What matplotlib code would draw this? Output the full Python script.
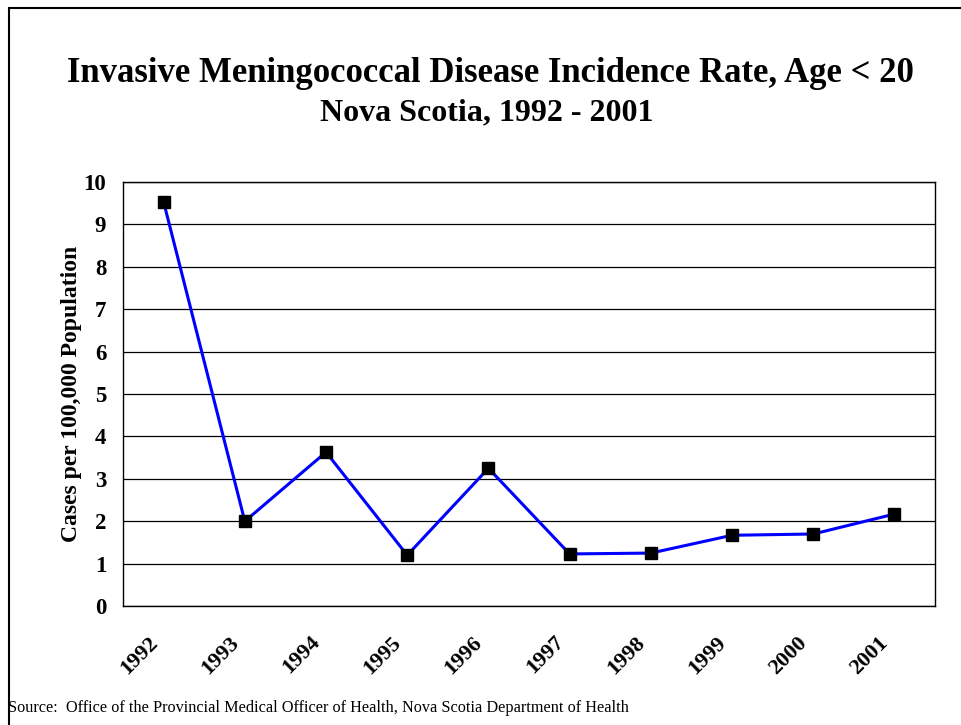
import matplotlib.pyplot as plt
import matplotlib.transforms as mtransforms
from matplotlib.patches import Rectangle

# data
years = ['1992', '1993', '1994', '1995', '1996', '1997', '1998', '1999', '2000', '2001']
rates = [9.53, 2.0, 3.63, 1.2, 3.25, 1.23, 1.25, 1.67, 1.70, 2.17]
yticks = [0, 1, 2, 3, 4, 5, 6, 7, 8, 9, 10]

plt.rcParams['font.family'] = ['Liberation Serif', 'DejaVu Serif']

fig = plt.figure(figsize=(9.61, 7.25), dpi=100)
ax = fig.add_axes([0.128, 0.164, 0.845, 0.585])

x = range(len(years))
ax.plot(x, rates, color='#0000ff', lw=2.2, marker='s', ms=8,
        mfc='black', mec='black', zorder=3)

ax.set_xlim(-0.5, len(years) - 0.5)
ax.set_ylim(0, 10)
ax.set_yticks(yticks)
ax.set_yticklabels([str(t) for t in yticks], fontsize=16.5, fontweight='bold')
ax.set_xticks(list(x))
ax.set_xticklabels(years, rotation=45, ha='right', va='top', fontsize=16,
                   fontweight='bold', rotation_mode='anchor')
ax.tick_params(axis='y', length=0, pad=12)
ax.tick_params(axis='x', length=0, pad=19)
# shift the slanted year labels a bit left, like the original
shift = mtransforms.ScaledTranslation(-0.16, 0, fig.dpi_scale_trans)
for lab in ax.get_xticklabels():
    lab.set_transform(lab.get_transform() + shift)
ax.grid(axis='y', color='black', lw=0.9)
ax.set_axisbelow(True)
for s in ax.spines.values():
    s.set_color('black')
    s.set_linewidth(1.0)

ax.set_ylabel('Cases per 100,000 Population', fontsize=17, fontweight='bold', labelpad=1)

fig.text(0.51, 0.887, 'Invasive Meningococcal Disease Incidence Rate, Age < 20',
         ha='center', va='baseline', fontsize=25, fontweight='bold')
fig.text(0.506, 0.834, 'Nova Scotia, 1992 - 2001',
         ha='center', va='baseline', fontsize=23, fontweight='bold')
fig.text(0.008, 0.023, 'Source:  Office of the Provincial Medical Officer of Health, Nova Scotia Department of Health',
         ha='left', va='center', fontsize=11.7)

fig.patches.append(Rectangle((0.0094, -0.05), 1.1, 1.039, transform=fig.transFigure,
                             fill=False, ec='black', lw=1.5))

fig.savefig('out.png', dpi=100)
